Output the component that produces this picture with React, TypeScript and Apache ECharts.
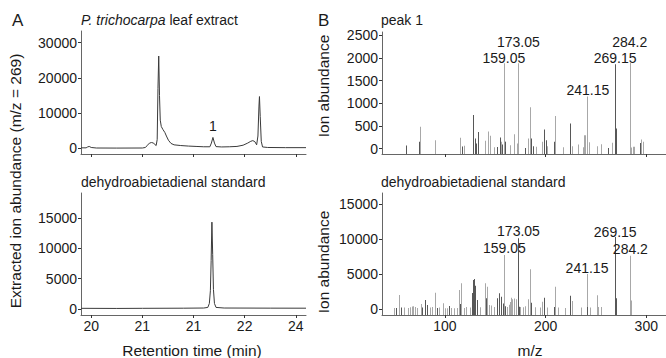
import React, { useEffect, useRef } from "react";
import * as echarts from "echarts";

// ---------- Chromatograms (panel A) ----------
const timeTicks = [20, 21, 22, 23, 24];
const timeTickLabels = ["20", "21", "21", "22", "24"];

const extractTimes = [19.8, 19.9, 19.93, 19.96, 20.0, 20.1, 20.5, 21.0, 21.06, 21.1, 21.14, 21.18, 21.22, 21.25, 21.27, 21.29, 21.305, 21.32, 21.335, 21.35, 21.37, 21.4, 21.44, 21.47, 21.51, 21.56, 21.62, 21.75, 21.9, 22.05, 22.2, 22.32, 22.35, 22.38, 22.41, 22.44, 22.55, 22.7, 22.85, 22.97, 23.06, 23.12, 23.16, 23.2, 23.235, 23.26, 23.28, 23.29, 23.305, 23.325, 23.35, 23.45, 23.8, 24.2];
const extractValues = [150, 150, 400, 550, 250, 100, 80, 100, 250, 900, 1500, 1650, 1500, 1000, 800, 2500, 17000, 26200, 15000, 8000, 6200, 5400, 4500, 3500, 2300, 1400, 1000, 800, 650, 550, 450, 450, 1500, 3100, 1500, 500, 400, 450, 550, 900, 1500, 2000, 2200, 1900, 1000, 3500, 12000, 14700, 9000, 2000, 400, 250, 200, 200];

const standardTimes = [19.8, 20.5, 21.0, 21.8, 22.2, 22.28, 22.31, 22.33, 22.345, 22.36, 22.375, 22.39, 22.41, 22.44, 22.6, 23.5, 24.2];
const standardValues = [100, 80, 100, 120, 150, 250, 900, 3000, 8000, 14300, 9000, 3200, 900, 250, 150, 130, 120];

const peak1Label = { time: 22.38, value: 6300, text: "1" };

// ---------- Mass spectra (panel B) ----------
const mzTicks = [100, 200, 300];

const peakLightMz = [75.7, 90.7, 115.7, 117.5, 119.8, 140.6, 142.9, 144.8, 149.3, 156, 159.05, 160.5, 165.3, 169.4, 171.7, 173.05, 182.8, 185.1, 190.9, 197.3, 202, 209.4, 218, 227, 233.1, 237.2, 238.8, 239.5, 241.15, 243.3, 251.3, 255.5, 266.3, 284.2, 285.5, 287, 288.5, 295.5, 297];
const peakLightVal = [480, 185, 237, 50, 60, 170, 378, 281, 30, 148, 1880, 148, 74, 318, 110, 1880, 222, 911, 40, 148, 50, 718, 30, 52, 89, 30, 296, 296, 1148, 141, 52, 96, 126, 1890, 22, 40, 40, 200, 148];
const peakDarkMz = [62, 74.8, 117, 128.8, 130.7, 131.5, 132.9, 152.2, 155, 157.3, 160.6, 179.7, 185.6, 187.6, 199.2, 200.5, 208.5, 225, 262.9, 269.15, 270.4, 294.5];
const peakDarkVal = [70, 150, 40, 740, 222, 110, 363, 37, 244, 90, 148, 15, 222, 52, 422, 185, 148, 555, 15, 1860, 444, 120];

const stdLightMz = [50, 54.9, 60, 64, 66, 67.5, 69, 70.5, 73, 76.7, 86, 88, 90.7, 95, 98.8, 101, 103, 107, 110, 112, 114.7, 116.6, 119, 121, 125, 135, 140.3, 142.2, 144, 146, 149, 159.05, 162, 164, 165.5, 166, 167.5, 169, 171.5, 175, 178, 180, 182.8, 185.1, 190, 195, 197.3, 202, 209.4, 213, 220, 227, 236, 241.15, 245, 251.6, 253, 255.8, 284.2, 285.2];
const stdLightVal = [150, 2000, 200, 150, 250, 350, 400, 300, 150, 714, 200, 300, 2333, 200, 810, 100, 120, 150, 100, 150, 2714, 3667, 150, 300, 200, 250, 3667, 3190, 571, 500, 300, 7700, 300, 600, 1000, 1600, 1400, 1500, 1380, 300, 250, 400, 1380, 5667, 250, 200, 1048, 200, 3190, 200, 150, 1143, 200, 5000, 200, 1952, 300, 300, 7600, 1200];
const stdDarkMz = [52, 57, 78, 81.1, 82.5, 93, 104.5, 115.5, 127, 128.1, 129, 130.7, 132, 141.2, 152.5, 154.7, 156, 158, 160.5, 173.05, 174.5, 186, 199.2, 208.5, 225, 242, 269.15, 270.2];
const stdDarkVal = [150, 200, 200, 1286, 571, 150, 430, 714, 2300, 4140, 4300, 3330, 1286, 1524, 1524, 2238, 1762, 800, 400, 10100, 333, 905, 1619, 300, 1905, 300, 10300, 1524];

const annotMz = [159.05, 173.05, 241.15, 269.15, 284.2];
const annotText = ["159.05", "173.05", "241.15", "269.15", "284.2"];
const annotTopMz = [158.5, 173, 242, 269, 283.5];
const annotTopY = [2004, 2357, 1300, 2004, 2357];
const annotStdY = [8700, 11140, 5860, 11000, 8570];

const FONT = "Liberation Sans, Arial, Helvetica, sans-serif";
const TEXT = "#1a1a1a";
const AXIS = "#666";
const LIGHT = "#a8a8a8";
const DARK = "#575757";
const TRACE = "#3a3a3a";

const yRanges = [
  { min: -1600, max: 33300, ticks: [0, 10000, 20000, 30000] },
  { min: -1000, max: 19100, ticks: [0, 5000, 10000, 15000] },
  { min: -120, max: 2570, ticks: [0, 500, 1000, 1500, 2000, 2500] },
  { min: -860, max: 16570, ticks: [0, 5000, 10000, 15000] },
];

function pairs(xs: number[], ys: number[]) {
  return xs.map((x, i) => [x, ys[i]]);
}

const labelStyle = {
  show: true,
  position: "inside",
  formatter: (p: any) => p.name,
  fontSize: 14,
  fontFamily: FONT,
  color: TEXT,
  opacity: 1,
};

export default function App() {
  const ref = useRef<HTMLDivElement>(null);
  useEffect(() => {
    if (!ref.current) return;
    const chart = echarts.init(ref.current, null, { renderer: "svg" });

    const grids = [
      { left: 81, right: 360, top: 31, bottom: 204 },
      { left: 81, right: 360, top: 193, bottom: 43 },
      { left: 382, right: -10, top: 32, bottom: 204 },
      { left: 382, right: -10, top: 193, bottom: 43 },
    ];

    const xAxes = grids.map((_, i) => {
      const isTime = i < 2;
      const showLabels = i === 1 || i === 3;
      const ticks = isTime ? timeTicks : mzTicks;
      return {
        type: "value",
        gridIndex: i,
        min: isTime ? 19.8 : 37.5,
        max: isTime ? 24.2 : 319.6,
        splitLine: { show: false },
        axisLine: { show: true, onZero: false, lineStyle: { color: AXIS, width: 1 } },
        axisTick: { show: true, length: 3, inside: false, customValues: ticks, lineStyle: { color: "#333" } },
        axisLabel: {
          show: showLabels,
          customValues: ticks,
          margin: 4,
          fontSize: 14,
          fontFamily: FONT,
          color: TEXT,
          formatter: (v: number) => {
            if (isTime) {
              const k = timeTicks.indexOf(Math.round(v));
              return k >= 0 ? timeTickLabels[k] : "";
            }
            return String(Math.round(v));
          },
        },
      };
    });

    const yAxes = yRanges.map((r, i) => ({
      type: "value",
      gridIndex: i,
      min: r.min,
      max: r.max,
      splitLine: { show: false },
      axisLine: { show: true, onZero: false, lineStyle: { color: AXIS, width: 1 } },
      axisTick: { show: true, length: 3, customValues: r.ticks, lineStyle: { color: "#333" } },
      axisLabel: {
        customValues: r.ticks,
        margin: 4,
        fontSize: 14,
        fontFamily: FONT,
        color: TEXT,
        formatter: (v: number) => String(Math.round(v)),
      },
    }));

    const spectrum = (axisIdx: number, mz: number[], val: number[], color: string) => ({
      type: "custom",
      xAxisIndex: axisIdx,
      yAxisIndex: axisIdx,
      data: pairs(mz, val),
      clip: true,
      renderItem: (params: any, api: any) => {
        const x = api.value(0);
        const y = api.value(1);
        const top = api.coord([x, y]);
        const base = api.coord([x, yRanges[axisIdx].min]);
        const px = Math.round(top[0] - 0.5);
        return {
          type: "rect",
          shape: { x: px, y: top[1], width: 1, height: base[1] - top[1] },
          style: { fill: color },
        };
      },
    });

    const annot = (axisIdx: number, mzs: number[], ys: number[]) => ({
      type: "scatter",
      xAxisIndex: axisIdx,
      yAxisIndex: axisIdx,
      symbolSize: 0,
      itemStyle: { opacity: 1 },
      data: mzs.map((m, k) => ({ value: [m, ys[k]], name: annotText[k] })),
      label: labelStyle,
      z: 5,
    });

    chart.setOption({
      animation: false,
      grid: grids,
      xAxis: xAxes,
      yAxis: yAxes,
      series: [
        {
          type: "line",
          xAxisIndex: 0,
          yAxisIndex: 0,
          data: pairs(extractTimes, extractValues),
          showSymbol: false,
          lineStyle: { color: TRACE, width: 1 },
        },
        {
          type: "scatter",
          xAxisIndex: 0,
          yAxisIndex: 0,
          symbolSize: 0,
          itemStyle: { opacity: 1 },
          data: [{ value: [peak1Label.time, peak1Label.value], name: peak1Label.text }],
          label: labelStyle,
        },
        {
          type: "line",
          xAxisIndex: 1,
          yAxisIndex: 1,
          data: pairs(standardTimes, standardValues),
          showSymbol: false,
          lineStyle: { color: TRACE, width: 1 },
        },
        spectrum(2, peakLightMz, peakLightVal, LIGHT),
        spectrum(2, peakDarkMz, peakDarkVal, DARK),
        spectrum(3, stdLightMz, stdLightVal, LIGHT),
        spectrum(3, stdDarkMz, stdDarkVal, DARK),
        annot(2, annotTopMz, annotTopY),
        annot(3, annotMz, annotStdY),
      ],
      graphic: [
        { type: "text", left: 12, top: 12, style: { text: "A", font: `17px ${FONT}`, fill: TEXT } },
        { type: "text", left: 318, top: 12, style: { text: "B", font: `17px ${FONT}`, fill: TEXT } },
        {
          type: "text",
          left: 81,
          top: 13,
          style: {
            text: "{i|P. trichocarpa} leaf extract",
            font: `14px ${FONT}`,
            fill: TEXT,
            rich: { i: { fontStyle: "italic", fontSize: 14, fontFamily: FONT, fill: TEXT } },
          },
        },
        { type: "text", left: 81, top: 175, style: { text: "dehydroabietadienal standard", font: `14px ${FONT}`, fill: TEXT } },
        { type: "text", left: 381, top: 13, style: { text: "peak 1", font: `14px ${FONT}`, fill: TEXT } },
        { type: "text", left: 381, top: 175, style: { text: "dehydroabietadienal standard", font: `14px ${FONT}`, fill: TEXT } },
        {
          type: "text",
          x: 15,
          y: 181,
          rotation: Math.PI / 2,
          style: { text: "Extracted ion abundance (m/z = 269)", font: `15.5px ${FONT}`, fill: TEXT, align: "center", verticalAlign: "middle" },
        },
        {
          type: "text",
          x: 323,
          y: 86,
          rotation: Math.PI / 2,
          style: { text: "Ion abundance", font: `15.5px ${FONT}`, fill: TEXT, align: "center", verticalAlign: "middle" },
        },
        {
          type: "text",
          x: 323,
          y: 262,
          rotation: Math.PI / 2,
          style: { text: "Ion abundance", font: `15.5px ${FONT}`, fill: TEXT, align: "center", verticalAlign: "middle" },
        },
        {
          type: "text",
          x: 192,
          y: 350,
          style: { text: "Retention time (min)", font: `15.5px ${FONT}`, fill: TEXT, align: "center", verticalAlign: "middle" },
        },
        {
          type: "text",
          x: 530,
          y: 350,
          style: { text: "m/z", font: `15.5px ${FONT}`, fill: TEXT, align: "center", verticalAlign: "middle" },
        },
      ],
    });

    return () => chart.dispose();
  }, []);

  return (
    <div
      ref={ref}
      style={{ position: "fixed", left: 0, top: 0, width: 666, height: 358, background: "#fff" }}
    />
  );
}
